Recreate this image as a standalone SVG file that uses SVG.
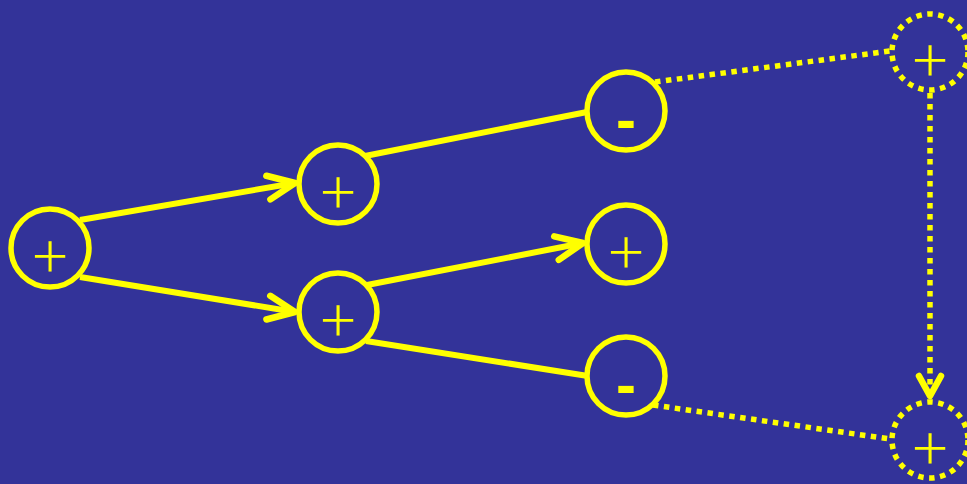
<svg xmlns="http://www.w3.org/2000/svg" width="967" height="484" viewBox="0 0 967 484">
<style>
.n{fill:none;stroke:#ffff00;stroke-width:5.5}
.d{fill:none;stroke:#ffff00;stroke-width:5.5;stroke-dasharray:5.5 5.5}
.e{fill:none;stroke:#ffff00;stroke-width:6}
.de{fill:none;stroke:#ffff00;stroke-width:5.5;stroke-dasharray:5.5 5.5}
.p{fill:#ffff00;font-family:Inter,"DejaVu Sans",sans-serif;font-weight:200;font-size:70px;text-anchor:middle}
.m{fill:#ffff00;font-family:"Liberation Sans",sans-serif;font-weight:bold;font-size:60px;text-anchor:middle}
</style>
<defs>
<marker id="ah" markerUnits="userSpaceOnUse" markerWidth="40" markerHeight="40" viewBox="-34 -20 40 40" refX="0" refY="0" orient="auto">
<path d="M-27,-12 L0,0 L-27,12" fill="none" stroke="#ffff00" stroke-width="6.5" stroke-linecap="round" stroke-linejoin="round"/>
</marker>
<marker id="ah2" markerUnits="userSpaceOnUse" markerWidth="40" markerHeight="40" viewBox="-34 -20 40 40" refX="0" refY="0" orient="auto">
<path d="M-20,-11 L0,0 L-20,11" fill="none" stroke="#ffff00" stroke-width="6.5" stroke-linecap="round" stroke-linejoin="round"/>
</marker>
</defs>
<rect width="967" height="484" fill="#333399"/>
<g id="connectors">
<line class="e" x1="80" y1="220" x2="295" y2="183" marker-end="url(#ah)"/>
<line class="e" x1="80" y1="277" x2="295" y2="312" marker-end="url(#ah)"/>
<line class="e" x1="365" y1="156" x2="587" y2="112"/>
<line class="e" x1="367" y1="285" x2="583" y2="243" marker-end="url(#ah)"/>
<line class="e" x1="366" y1="341" x2="588" y2="376"/>
<line class="de" x1="655" y1="82" x2="890" y2="51"/>
<line class="de" x1="653" y1="405" x2="890" y2="439"/>
<line class="de" x1="930" y1="93" x2="930" y2="396" marker-end="url(#ah2)"/>
</g>
<g id="nA"><circle class="n" cx="50" cy="248" r="39"/><text class="p" x="50" y="276">+</text></g>
<g id="nB"><circle class="n" cx="338" cy="184" r="39"/><text class="p" x="338" y="212">+</text></g>
<g id="nC"><circle class="n" cx="338" cy="312" r="39"/><text class="p" x="338" y="340">+</text></g>
<g id="nD"><circle class="n" cx="626" cy="111" r="39"/><text class="m" x="626" y="140">-</text></g>
<g id="nE"><circle class="n" cx="626" cy="244" r="39"/><text class="p" x="626" y="272">+</text></g>
<g id="nF"><circle class="n" cx="626" cy="376" r="39"/><text class="m" x="626" y="405">-</text></g>
<g id="nG"><circle class="d" cx="930" cy="52" r="38"/><text class="p" x="930" y="80">+</text></g>
<g id="nH"><circle class="d" cx="930" cy="440" r="38"/><text class="p" x="930" y="468">+</text></g>
</svg>
